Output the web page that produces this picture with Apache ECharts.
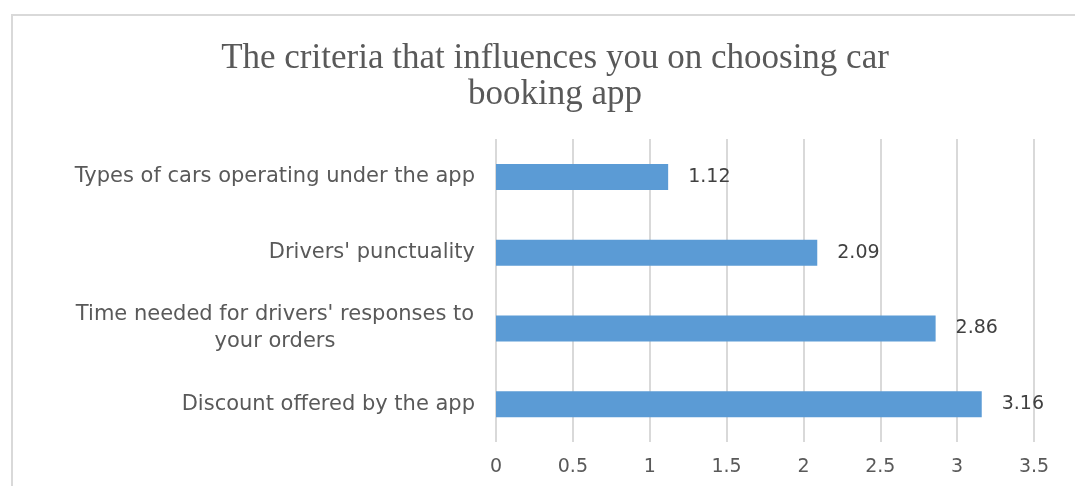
<!DOCTYPE html>
<html>
<head>
<meta charset="utf-8">
<script src="https://cdn.jsdelivr.net/npm/echarts@6/dist/echarts.min.js"></script>
<style>
html,body{margin:0;padding:0;background:#fff;}
#chart{width:1075px;height:486px;}
</style>
</head>
<body>
<div id="chart"></div>
<script>
const titleText = 'The criteria that influences you on choosing car\nbooking app';
const categories = [
  'Types of cars operating under the app',
  "Drivers' punctuality",
  "Time needed for drivers' responses to\nyour orders",
  'Discount offered by the app'
];
const values = [1.12, 2.09, 2.86, 3.16];
const xTicks = [0, 0.5, 1, 1.5, 2, 2.5, 3, 3.5];

const catFont = 'DejaVu Sans';
const catSize = 21;

function measure(text, size, family) {
  const c = document.createElement('canvas').getContext('2d');
  c.font = size + 'px "' + family + '"';
  return c.measureText(text).width;
}

const chart = echarts.init(document.getElementById('chart'));
chart.setOption({
  backgroundColor: '#ffffff',
  animation: false,
  graphic: [{
    type: 'rect',
    shape: { x: 12, y: 15, width: 1200, height: 600 },
    style: { fill: 'none', stroke: '#d9d9d9', lineWidth: 2 },
    silent: true
  }],
  title: {
    text: titleText,
    left: 550,
    top: 36,
    textAlign: 'center',
    textStyle: {
      fontFamily: 'Liberation Serif',
      fontSize: 35,
      fontWeight: 'normal',
      color: '#595959',
      lineHeight: 36
    }
  },
  grid: { left: 496, right: 41, top: 139, bottom: 44 },
  xAxis: {
    type: 'value',
    min: xTicks[0],
    max: xTicks[xTicks.length - 1],
    interval: 0.5,
    axisLine: { show: false },
    axisTick: { show: false },
    splitLine: { show: true, lineStyle: { color: '#d9d9d9', width: 2 } },
    axisLabel: {
      margin: 16,
      fontFamily: catFont,
      fontSize: 19,
      color: '#595959',
      formatter: v => String(v)
    }
  },
  yAxis: {
    type: 'category',
    inverse: true,
    data: categories,
    axisLine: { show: false },
    axisTick: { show: false },
    axisLabel: {
      margin: 21,
      fontFamily: catFont,
      fontSize: catSize,
      color: '#595959',
      lineHeight: 27,
      formatter: function (v) {
        if (v.indexOf('\n') >= 0) {
          const lines = v.split('\n');
          return lines.map(l => '{c|' + l + '}').join('\n');
        }
        return v;
      },
      rich: {
        c: {
          width: Math.ceil(measure(categories[2].split('\n')[0], catSize, catFont)) + 1,
          align: 'center',
          fontFamily: catFont,
          fontSize: catSize,
          color: '#595959',
          lineHeight: 27
        }
      }
    }
  },
  series: [{
    type: 'bar',
    data: values,
    barWidth: 26,
    itemStyle: { color: '#5B9BD5' },
    label: {
      show: true,
      position: 'right',
      distance: 20,
      fontFamily: catFont,
      fontSize: 19,
      color: '#404040'
    }
  }]
});
</script>
</body>
</html>
